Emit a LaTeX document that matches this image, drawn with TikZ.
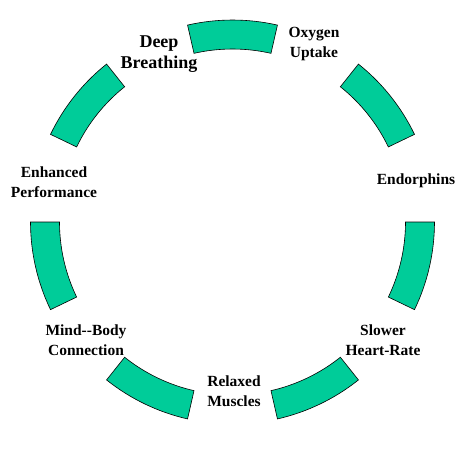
\documentclass[tikz,border=0pt]{standalone}
\usepackage{fontspec}
\setmainfont{Liberation Serif}
\begin{document}
\begin{tikzpicture}[x=1pt,y=-1pt,
  seg/.style={fill=segcol,draw=black,line width=0.6pt},
  lbl/.style={align=center,inner sep=0pt,font=\bfseries\fontsize{15.5}{19.5}\selectfont},
  biglbl/.style={align=center,inner sep=0pt,font=\bfseries\fontsize{18}{21}\selectfont}]
\definecolor{segcol}{HTML}{00CC99}
\useasboundingbox (0,0) rectangle (469,448);
\coordinate (c) at (232.5,222);
\begin{scope}[shift={(c)},x=1pt,y=1pt]
\foreach \k in {0,...,6}{
  \pgfmathsetmacro{\a}{90-\k*360/7}
  \pgfmathsetmacro{\s}{\a-180/14}
  \pgfmathsetmacro{\e}{\a+180/14}
  \draw[seg] (\s:202pt) arc[start angle=\s, end angle=\e, radius=202pt]
    -- (\e:173pt) arc[start angle=\e, end angle=\s, radius=173pt] -- cycle;
}
\end{scope}
\node[biglbl] (deep) at (159,54.5) {Deep\\Breathing};
\node[lbl] (oxy) at (314,44) {Oxygen\\Uptake};
\node[lbl] (endo) at (416,181) {Endorphins};
\node[lbl] (slow) at (383,340) {Slower\\Heart-Rate};
\node[lbl] (relax) at (234,391) {Relaxed\\Muscles};
\node[lbl] (mind) at (86,340) {Mind-{}-Body\\Connection};
\node[lbl] (enh) at (54,182) {Enhanced\\Performance};
\end{tikzpicture}
\end{document}
